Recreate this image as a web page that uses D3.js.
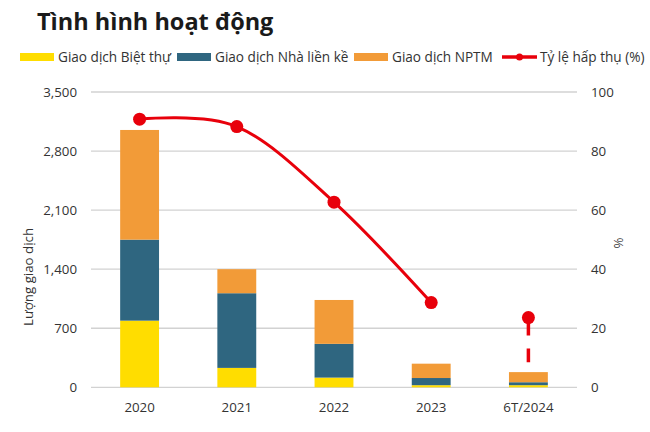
<!DOCTYPE html>
<html><head><meta charset="utf-8">
<script src="https://cdn.jsdelivr.net/npm/d3@7"></script>
<style>body{margin:0;background:#fff}svg{display:block}text{font-family:"Open Sans","Noto Sans",sans-serif}</style>
</head><body><svg id="c" width="650" height="432"></svg>
<script>
const categories = ["2020", "2021", "2022", "2023", "6T/2024"];
const villa = [790, 230, 115, 25, 25];
const townhouse = [960, 885, 400, 85, 35];
const nptm = [1300, 285, 520, 170, 120];
const absorption = [90.8, 88.3, 62.7, 28.7, 23.6];
const dropEnd = 8.5; // lower end of dashed drop for the last period
const leftTicks = [0, 700, 1400, 2100, 2800, 3500];
const rightTicks = [0, 20, 40, 60, 80, 100];
const seriesNames = ["Giao dịch Biệt thự", "Giao dịch Nhà liền kề", "Giao dịch NPTM", "Tỷ lệ hấp thụ (%)"];
const colors = ["#FFDD00", "#2F6680", "#F29B38", "#E8000B"];

const svg = d3.select("#c");
const x = d3.scaleBand().domain(categories).range([91, 577]).paddingInner(0.6).paddingOuter(0.3);
const y = d3.scaleLinear().domain([0, 3500]).range([387.3, 92]);
const y2 = d3.scaleLinear().domain([0, 100]).range([387.3, 92]);

// gridlines
svg.append("g").selectAll("line").data(leftTicks).join("line")
  .attr("x1", 91).attr("x2", 577).attr("y1", d => y(d)).attr("y2", d => y(d))
  .attr("stroke", "#d2d2d2").attr("stroke-width", 1.3);

// left axis
const la = svg.append("g").attr("transform", "translate(77,0)")
  .call(d3.axisLeft(y).tickValues(leftTicks).tickSize(0).tickPadding(0).tickFormat(d3.format(",")));
la.select(".domain").remove();
la.selectAll("text").attr("font-size", 13.3).attr("fill", "#333");

// right axis
const ra = svg.append("g").attr("transform", "translate(591,0)")
  .call(d3.axisRight(y2).tickValues(rightTicks).tickSize(0).tickPadding(0));
ra.select(".domain").remove();
ra.selectAll("text").attr("font-size", 13.3).attr("fill", "#333");

// bottom axis
const ba = svg.append("g").attr("transform", "translate(0,400)")
  .call(d3.axisBottom(x).tickSize(0).tickPadding(3));
ba.select(".domain").remove();
ba.selectAll("text").attr("font-size", 13.3).attr("fill", "#333");

// stacked bars
const rows = categories.map((c, i) => ({cat: c, villa: villa[i], townhouse: townhouse[i], nptm: nptm[i]}));
const stack = d3.stack().keys(["villa", "townhouse", "nptm"])(rows);
svg.append("g").selectAll("g").data(stack).join("g").attr("fill", (d, i) => colors[i])
  .selectAll("rect").data(d => d).join("rect")
  .attr("x", d => x(d.data.cat)).attr("width", x.bandwidth())
  .attr("y", d => y(d[1])).attr("height", d => y(d[0]) - y(d[1]));

// line
const cx = c => x(c) + x.bandwidth() / 2;
const linePts = categories.slice(0, 4).map((c, i) => [cx(c), y2(absorption[i])]);
svg.append("path").attr("d", d3.line().curve(d3.curveCardinal.tension(0))(linePts))
  .attr("fill", "none").attr("stroke", colors[3]).attr("stroke-width", 3);
const lastC = categories[4];
svg.append("line").attr("x1", cx(lastC)).attr("x2", cx(lastC))
  .attr("y1", y2(absorption[4])).attr("y2", y2(dropEnd))
  .attr("stroke", colors[3]).attr("stroke-width", 3.5).attr("stroke-dasharray", "18,13");
svg.append("g").selectAll("circle").data(categories).join("circle")
  .attr("cx", d => cx(d)).attr("cy", (d, i) => y2(absorption[i])).attr("r", 6.5).attr("fill", colors[3]);

// axis titles
svg.append("text").attr("transform", "translate(33,277) rotate(-90)").attr("text-anchor", "middle")
  .attr("font-size", 13.3).attr("fill", "#333").text("Lượng giao dịch");
svg.append("text").attr("transform", "translate(623,243) rotate(-90)").attr("text-anchor", "middle")
  .attr("font-size", 13.3).attr("fill", "#333").text("%");

// title
svg.append("text").attr("x", 37).attr("y", 30).attr("font-size", 23.5).attr("font-weight", "bold")
  .attr("fill", "#1a1a1a").text("Tình hình hoạt động");

// legend
const legX = [20, 177, 354, 502];
const lg = svg.append("g");
seriesNames.forEach((n, i) => {
  const g = lg.append("g").attr("transform", `translate(${legX[i]},57)`);
  if (i < 3) {
    g.append("rect").attr("x", 0).attr("y", -4).attr("width", 34).attr("height", 8).attr("fill", colors[i]);
  } else {
    g.append("line").attr("x1", 0).attr("x2", 35).attr("y1", 0).attr("y2", 0).attr("stroke", colors[i]).attr("stroke-width", 3.5);
    g.append("circle").attr("cx", 17.5).attr("cy", 0).attr("r", 3.5).attr("fill", colors[i]);
  }
  g.append("text").attr("x", 38).attr("y", 0).attr("dy", "0.35em")
    .attr("font-size", 13.6).attr("fill", "#333").text(n);
});
</script></body></html>
